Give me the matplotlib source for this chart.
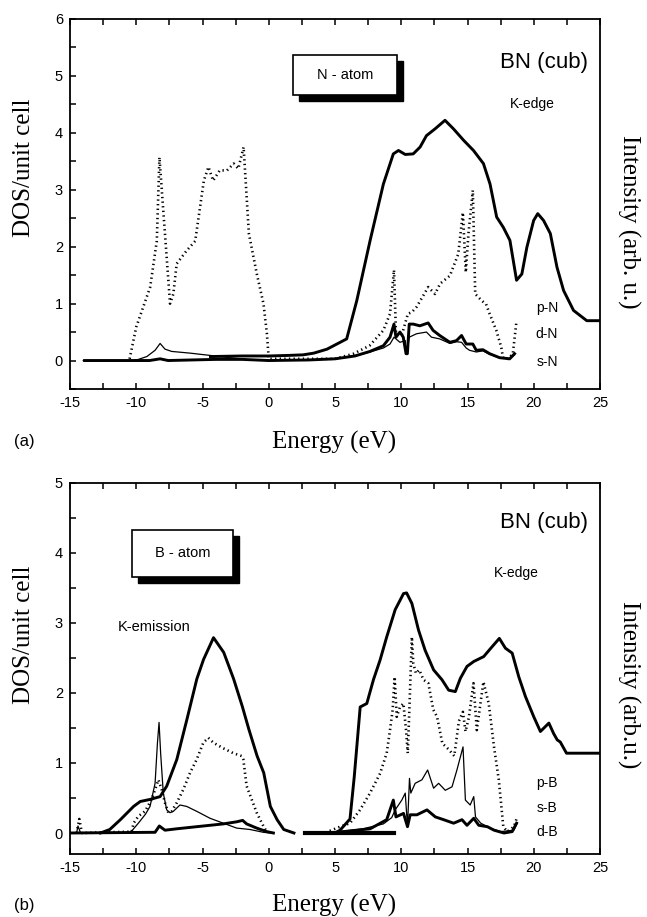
import matplotlib
matplotlib.use("Agg")
import matplotlib.pyplot as plt
from matplotlib.patches import Rectangle
from matplotlib.ticker import MultipleLocator
import numpy as np

plt.rcParams["axes.unicode_minus"] = False
nan = np.nan

# ---------------- (a) N atom ----------------
e_pN = [-10.5, -10.0, -8.95, -8.45, -8.25, -7.95, -7.45, -7.2, -6.95, -6.2, -5.55, -4.9, -4.55, -4.2,
        -3.7, -3.15, -2.65, -2.3, -1.9, -1.5, -0.9, -0.4, -0.14, 0.0,
        5.0, 6.4, 7.6, 8.65, 9.15, 9.45, 9.6, 10.04, 10.5, 10.8, 11.15, 11.66, 12.03, 12.55, 12.93,
        13.67, 14.3, 14.65, 14.87, 15.07, 15.4, 15.58, 16.08, 16.4, 16.67, 17.17, 17.55, 17.67,
        18.05, 18.42, 18.7]
dos_pN = [0.03, 0.59, 1.29, 2.1, 3.57, 2.6, 1.0, 1.17, 1.7, 1.93, 2.1, 3.16, 3.4, 3.16,
          3.34, 3.34, 3.46, 3.37, 3.75, 2.23, 1.52, 1.0, 0.47, 0.03,
          0.03, 0.12, 0.26, 0.53, 0.82, 1.59, 0.47, 0.45, 0.82, 0.85, 0.94, 1.14, 1.29, 1.17, 1.35,
          1.49, 1.87, 2.6, 1.55, 2.23, 2.99, 1.17, 1.05, 0.99, 0.82, 0.53, 0.23, 0.06,
          0.03, 0.12, 0.7]

e_dN = [-14.0, -10.5, -9.97, -9.2, -8.58, -8.2, -7.83, -7.33, -5.94, -4.43, -2.92, -1.42, 0.09,
        3.0, 5.0, 6.5, 7.64, 8.65, 9.15, 9.45, 9.9, 10.3, 10.4, 10.6, 11.15, 11.9, 12.28, 12.9,
        13.67, 14.17, 14.55, 14.9, 15.15, 15.66, 16.16, 16.67, 17.42, 18.18, 18.55]
dos_dN = [0, 0, 0.01, 0.07, 0.18, 0.3, 0.2, 0.16, 0.13, 0.09, 0.05, 0.01, 0,
          0.01, 0.03, 0.08, 0.15, 0.22, 0.29, 0.41, 0.32, 0.35, 0.12, 0.41, 0.47, 0.5, 0.41, 0.38,
          0.3, 0.33, 0.32, 0.22, 0.18, 0.15, 0.17, 0.11, 0.05, 0.03, 0.1]

e_sN = [-13.9, -9.0, -8.2, -7.6, -4.0, -2.0, 0.0, 3.0, 5.0, 6.5, 7.64, 8.65, 9.15, 9.45, 9.6,
        9.9, 10.15, 10.36, 10.46, 10.6, 10.9, 11.4, 12.03, 12.4, 12.9, 13.67, 14.17, 14.55,
        14.9, 15.4, 15.66, 16.16, 16.67, 17.42, 18.18, 18.55]
dos_sN = [0, 0.0, 0.03, 0.0, 0.02, 0.02, 0.0, 0.01, 0.03, 0.08, 0.16, 0.26, 0.41, 0.64, 0.41,
          0.5, 0.41, 0.12, 0.12, 0.64, 0.64, 0.61, 0.66, 0.53, 0.44, 0.32, 0.35, 0.44,
          0.29, 0.29, 0.18, 0.19, 0.12, 0.05, 0.03, 0.12]

e_kedge_N = [-4.4, -2.0, 0.0, 1.5, 2.6, 3.4, 4.4, 5.88, 6.64, 7.65, 8.65, 9.4, 9.79, 10.3, 10.9,
             11.42, 11.9, 12.55, 13.3, 13.94, 14.7, 15.45, 16.2, 16.7, 17.2, 17.7, 18.2, 18.7,
             19.1, 19.48, 19.99, 20.3, 20.74, 21.25, 21.75, 22.25, 23.0, 24.0, 25.0]
int_kedge_N = [0.07, 0.08, 0.08, 0.09, 0.1, 0.13, 0.2, 0.38, 1.05, 2.11, 3.1, 3.63, 3.69, 3.62, 3.63,
               3.75, 3.95, 4.07, 4.22, 4.07, 3.87, 3.69, 3.46, 3.1, 2.52, 2.34, 2.11, 1.41,
               1.52, 1.99, 2.46, 2.58, 2.46, 2.23, 1.64, 1.23, 0.88, 0.7, 0.7]

# ---------------- (b) B atom ----------------
e_pB = [-14.5, -14.3, -14.1, -10.35, -10.2, -9.84, -9.34, -8.84, -8.58, -8.33, -8.08, -7.83, -7.58,
        -7.33, -6.95, -6.45, -5.94, -5.44, -4.94, -4.56, -4.18, -3.43, -2.67, -2.05, -1.92,
        -1.67, -1.29, -0.91, -0.41, -0.16, nan,
        4.6, 5.38, 6.13, 6.89, 7.64, 8.4, 8.9, 9.15, 9.35, 9.5, 9.66, 9.9, 10.16, 10.36, 10.49,
        10.61, 10.8, 10.91, 11.11, 11.36, 11.67, 12.04, 12.42, 12.7, 13.1, 13.6, 14.0, 14.35,
        14.65, 14.85, 15.1, 15.45, 15.7, 16.2, 16.6, 17.0, 17.36, 17.7, 18.0, 18.5, 18.75]
dos_pB = [0.0, 0.2, 0.0, 0.02, 0.14, 0.24, 0.31, 0.48, 0.62, 0.76, 0.62, 0.43, 0.29,
          0.31, 0.43, 0.62, 0.86, 1.05, 1.29, 1.36, 1.29, 1.21, 1.14, 1.1, 1.05,
          0.67, 0.48, 0.29, 0.1, 0.02, nan,
          0.03, 0.09, 0.14, 0.33, 0.57, 0.85, 1.14, 1.47, 1.76, 2.23, 1.66, 1.8, 1.85, 1.47, 1.14,
          1.76, 2.8, 2.42, 2.28, 2.33, 2.19, 2.14, 1.76, 1.66, 1.28, 1.19, 1.1, 1.6,
          1.73, 1.45, 1.65, 2.14, 1.47, 2.16, 1.85, 1.23, 0.76, 0.09, 0.02, 0.09, 0.23]

e_sB = [-14.5, -14.4, -14.2, -10.47, -9.8, -9.3, -8.96, -8.58, -8.4, -8.28, -8.16, -7.96, -7.7,
        -7.45, -7.2, -6.7, -6.2, -5.44, -4.43, -3.43, -2.42, -1.41, -0.41, 0.1, nan,
        4.6, 7.1, 8.65, 9.28, 9.54, 10.04, 10.3, 10.47, 10.62, 10.72, 11.05, 11.56, 11.99, 12.44,
        12.82, 13.32, 13.83, 14.2, 14.66, 14.84, 15.2, 15.47, 15.6, 16.0, 16.7, 17.5, 18.5, 18.75]
dos_sB = [0.0, 0.1, 0.0, 0.0, 0.15, 0.27, 0.38, 0.71, 1.29, 1.58, 1.14, 0.57, 0.33,
          0.29, 0.31, 0.4, 0.38, 0.31, 0.21, 0.14, 0.07, 0.05, 0.01, 0.0, nan,
          0.0, 0.06, 0.13, 0.22, 0.33, 0.47, 0.57, 0.09, 0.78, 0.57, 0.71, 0.76, 0.9, 0.64,
          0.71, 0.61, 0.66, 0.9, 1.23, 0.47, 0.4, 0.52, 0.23, 0.14, 0.07, 0.02, 0.04, 0.14]

e_dB = [-15.0, -8.58, -8.26, -7.83, -6.95, -4.94, -3.43, -2.42, -1.97, -1.67, -0.91, -0.16, 0.35, nan,
        4.6, 7.65, 8.9, 9.4, 9.6, 10.17, 10.47, 10.67, 11.18, 11.94, 12.57, 13.2, 13.95, 14.58,
        14.96, 15.47, 15.85, 16.5, 17.0, 17.75, 18.37, 18.7]
dos_dB = [0.0, 0.01, 0.1, 0.04, 0.06, 0.1, 0.13, 0.16, 0.18, 0.13, 0.07, 0.02, 0.0, nan,
          0.0, 0.06, 0.19, 0.47, 0.23, 0.28, 0.09, 0.26, 0.26, 0.33, 0.23, 0.19, 0.14, 0.19,
          0.11, 0.21, 0.11, 0.09, 0.04, 0.0, 0.02, 0.14]

e_kemis_B = [-12.7, -12.0, -11.2, -10.2, -9.7, -8.95, -8.2, -7.7, -6.94, -6.18, -5.43, -4.92, -4.17,
             -3.4, -2.65, -2.0, -1.5, -0.88, -0.38, 0.12, 0.63, 1.13, 1.9]
int_kemis_B = [0.0, 0.05, 0.19, 0.38, 0.45, 0.48, 0.52, 0.67, 1.05, 1.62, 2.2, 2.48, 2.79,
               2.58, 2.2, 1.81, 1.48, 1.1, 0.86, 0.38, 0.19, 0.05, 0.0]

e_kedge_B = [2.7, 5.0, 5.38, 6.13, 6.45, 6.9, 7.4, 7.9, 8.4, 8.9, 9.54, 10.17, 10.4, 10.8, 11.3,
             11.8, 12.44, 13.07, 13.58, 14.08, 14.46, 14.96, 15.47, 16.22, 16.85, 17.4, 17.86,
             18.37, 18.87, 19.37, 20.0, 20.5, 21.14, 21.5, 21.77, 22.0, 22.47, 25.0]
int_kedge_B = [0.0, 0.0, 0.04, 0.2, 0.8, 1.8, 1.85, 2.19, 2.47, 2.8, 3.19, 3.42, 3.43, 3.28, 2.9,
               2.61, 2.33, 2.19, 2.04, 2.02, 2.21, 2.38, 2.45, 2.52, 2.66, 2.78, 2.64,
               2.57, 2.23, 1.95, 1.66, 1.45, 1.57, 1.42, 1.33, 1.3, 1.14, 1.14]
e_base_B = [2.7, 9.45]
int_base_B = [0.0, 0.0]

THICK = 2.1
THIN = 0.9
DOT = dict(color="black", lw=1.9, linestyle=(0, (0.5, 1.25)))
SANS = "Liberation Sans"
SERIF = "Liberation Serif"

fig = plt.figure(figsize=(6.47, 9.17), dpi=100)
ax_a = fig.add_axes([0.1082, 0.5758, 0.8192, 0.4035])
ax_b = fig.add_axes([0.1082, 0.0687, 0.8192, 0.4046])


def style_axes(ax, ymin, ymax):
    ax.set_xlim(-15, 25)
    ax.set_ylim(ymin, ymax)
    ax.xaxis.set_major_locator(MultipleLocator(5))
    ax.xaxis.set_minor_locator(MultipleLocator(2.5))
    ax.yaxis.set_major_locator(MultipleLocator(1))
    ax.yaxis.set_minor_locator(MultipleLocator(0.5))
    ax.tick_params(which="both", direction="in", top=True, bottom=True, left=True, right=False,
                   width=1.1, length=4.5, labelsize=10.5, pad=5)
    for s in ax.spines.values():
        s.set_linewidth(1.3)


def label_box(ax, x0, y0, w, h, text):
    sh = Rectangle((x0 + 0.011, y0 - 0.016), w, h, transform=ax.transAxes,
                   facecolor="black", edgecolor="black", zorder=5)
    bx = Rectangle((x0, y0), w, h, transform=ax.transAxes,
                   facecolor="white", edgecolor="black", lw=1.2, zorder=6)
    ax.add_patch(sh)
    ax.add_patch(bx)
    ax.text(x0 + w / 2, y0 + h / 2, text, transform=ax.transAxes, ha="center", va="center",
            family=SANS, fontsize=10.5, zorder=7)


# panel (a)
ax = ax_a
ax.plot(e_pN, dos_pN, **DOT)
ax.plot(e_dN, dos_dN, color="black", lw=THIN)
ax.plot(e_sN, dos_sN, color="black", lw=THICK)
ax.plot(e_kedge_N, int_kedge_N, color="black", lw=THICK)
style_axes(ax, -0.5, 6)
ax.set_yticks([0, 1, 2, 3, 4, 5, 6])
label_box(ax, 0.421, 0.795, 0.196, 0.108, "N - atom")
ax.text(24.1, 5.23, "BN (cub)", ha="right", va="center", family=SANS, fontsize=16)
ax.text(19.9, 4.5, "K-edge", ha="center", va="center", family=SANS, fontsize=10)
for name, yy in [("p-N", 0.93), ("d-N", 0.47), ("s-N", -0.03)]:
    ax.text(21.0, yy, name, ha="center", va="center", family=SANS, fontsize=10)

# panel (b)
ax = ax_b
ax.plot(e_pB, dos_pB, **DOT)
ax.plot(e_sB, dos_sB, color="black", lw=THIN)
ax.plot(e_dB, dos_dB, color="black", lw=THICK)
ax.plot(e_kemis_B, int_kemis_B, color="black", lw=THICK)
ax.plot(e_kedge_B, int_kedge_B, color="black", lw=THICK)
ax.plot(e_base_B, int_base_B, color="black", lw=3.0)
style_axes(ax, -0.3, 5)
ax.set_yticks([0, 1, 2, 3, 4, 5])
label_box(ax, 0.117, 0.747, 0.19, 0.126, "B - atom")
ax.text(24.1, 4.44, "BN (cub)", ha="right", va="center", family=SANS, fontsize=16)
ax.text(18.7, 3.71, "K-edge", ha="center", va="center", family=SANS, fontsize=10)
ax.text(-8.66, 2.94, "K-emission", ha="center", va="center", family=SANS, fontsize=10.5)
for name, yy in [("p-B", 0.71), ("s-B", 0.36), ("d-B", 0.01)]:
    ax.text(21.0, yy, name, ha="center", va="center", family=SANS, fontsize=10)

for a in (ax_a, ax_b):
    for lab in a.get_xticklabels() + a.get_yticklabels():
        lab.set_family(SANS)

# axis titles
fig.text(0.037, 0.817, "DOS/unit cell", rotation=90, ha="center", va="center",
         family=SERIF, fontsize=18)
fig.text(0.971, 0.758, "Intensity (arb. u.)", rotation=270, ha="center", va="center",
         family=SERIF, fontsize=18)
fig.text(0.516, 0.518, "Energy (eV)", ha="center", va="center", family=SERIF, fontsize=18)
fig.text(0.037, 0.518, "(a)", ha="center", va="center", family=SANS, fontsize=12)

fig.text(0.037, 0.308, "DOS/unit cell", rotation=90, ha="center", va="center",
         family=SERIF, fontsize=18)
fig.text(0.971, 0.253, "Intensity (arb.u.)", rotation=270, ha="center", va="center",
         family=SERIF, fontsize=18)
fig.text(0.516, 0.013, "Energy (eV)", ha="center", va="center", family=SERIF, fontsize=18)
fig.text(0.037, 0.013, "(b)", ha="center", va="center", family=SANS, fontsize=12)

fig.savefig("out.png", dpi=100)
